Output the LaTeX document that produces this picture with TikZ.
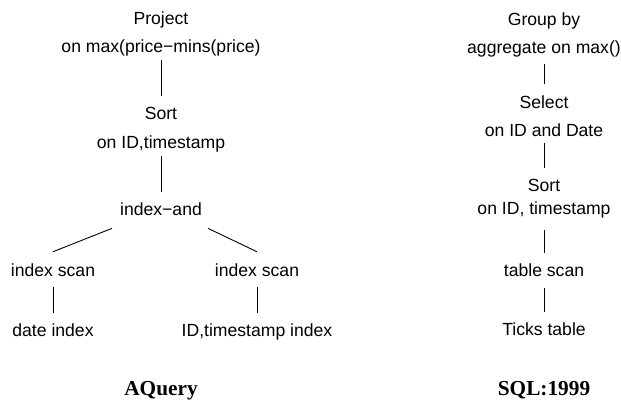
\documentclass[tikz,border=0pt]{standalone}
\usepackage{fontspec}
\setmainfont{Liberation Serif}
\setsansfont{Liberation Sans}
\usetikzlibrary{calc,positioning}

\begin{document}
\begin{tikzpicture}[x=1pt,y=-1pt]
  % Styles
  \tikzstyle{op}=[font=\sffamily\fontsize{17.6}{28.5}\selectfont,align=center,inner sep=0pt]
  \tikzstyle{edge}=[line width=0.9pt,shorten >=11pt]
  \tikzstyle{caption}=[font=\bfseries\fontsize{21.3}{24}\selectfont,inner sep=0pt,anchor=base]

  \useasboundingbox (0,0) rectangle (621,403);

  % AQuery plan
  \node[op,anchor=north] (project) at (161,11.1) {Project\\on max(price−mins(price)};
  \node[op,anchor=north] (sortL) at (161,107.1) {Sort\\on ID,timestamp};
  \node[op,anchor=base] (idxand) at (161,216) {index−and};
  \node[op,anchor=base] (scanL) at (53,276.7) {index scan};
  \node[op,anchor=base] (scanR) at (257,276.7) {index scan};
  \node[op,anchor=base] (dateidx) at (53,336.7) {date index};
  \node[op,anchor=base] (ididx) at (257,336.7) {ID,timestamp index};
  \node[caption] (aquery) at (161,395) {AQuery};

  \draw[edge,shorten <=3.8pt] (project) -- (sortL);
  \draw[edge,shorten <=4.3pt] (sortL) -- (idxand);
  \draw[line width=0.9pt] ($(idxand.south west)+(-8,12)$) -- ($(scanL.north)+(0,-12)$);
  \draw[line width=0.9pt] ($(idxand.south east)+(6,12)$) -- ($(scanR.north)+(0,-12)$);
  \draw[edge,shorten <=10.3pt] (scanL) -- (dateidx);
  \draw[edge,shorten <=10.3pt] (scanR) -- (ididx);

  % SQL:1999 plan
  \node[op,anchor=north] (group) at (544,12.1) {Group by\\aggregate on max()};
  \node[op,anchor=north] (select) at (544,95.1) {Select\\on ID and Date};
  \node[op,anchor=north,font=\sffamily\fontsize{17.6}{23.3}\selectfont] (sortR) at (544,178.8) {Sort\\on ID, timestamp};
  \node[op,anchor=base] (tblscan) at (544,276.7) {table scan};
  \node[op,anchor=base] (ticks) at (544,335) {Ticks table};
  \node[caption] (sql) at (544,395) {SQL:1999};

  \draw[edge,shorten <=7pt] (group) -- (select);
  \draw[edge,shorten <=6pt] (select) -- (sortR);
  \draw[edge,shorten <=11.3pt] (sortR) -- (tblscan);
  \draw[edge,shorten <=11.3pt,shorten >=10.1pt] (tblscan) -- (ticks);
\end{tikzpicture}
\end{document}
